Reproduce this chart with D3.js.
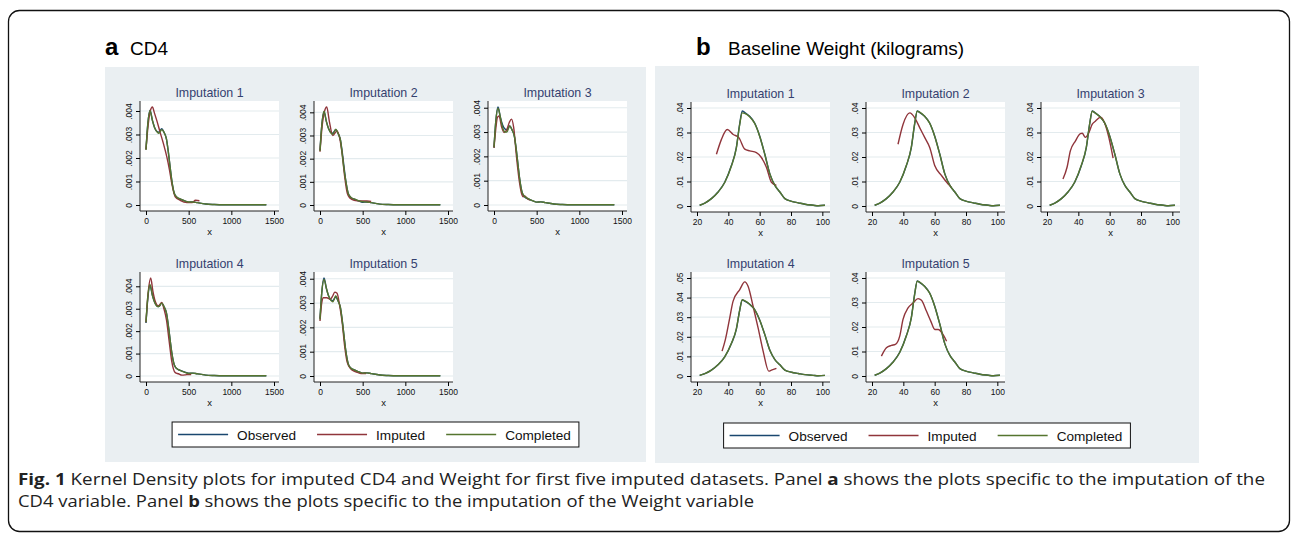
<!DOCTYPE html>
<html>
<head>
<meta charset="utf-8">
<script src="https://cdn.jsdelivr.net/npm/d3@7"></script>
<style>
    body {
        margin: 0;
        background: #fff;
    }

    svg text {
        font-family: "Liberation Sans", Arial, sans-serif;
    }

    .caption {
        font-family: "Open Sans", sans-serif !important;
    }
</style>
</head>
<body>
<svg id="fig" width="1293" height="537"></svg>

<script>
    // ---- data ----
    const legendLabels = ["Observed", "Imputed", "Completed"];
    const seriesColors = ["#1a476f", "#90353b", "#55752f"];
    const impTitles = ["Imputation 1", "Imputation 2", "Imputation 3", "Imputation 4", "Imputation 5"];

    const cd4XTicks = [0, 500, 1000, 1500];
    const wtXTicks = [20, 40, 60, 80, 100];

    // CD4: observed density (same in every imputation)
    const cd4Grid = [0, 20, 47, 75, 100, 130, 150, 185, 210, 240, 260, 283, 300, 331, 360, 400, 450, 500, 550, 600, 650, 700, 800, 900, 1000, 1100, 1200, 1300, 1410];
    const cd4Observed = [.00236, .0034, .00403, .0036, .0033, .00312, .0031, .00325, .0031, .0028, .0023, .0016, .0011, .0005, .00033, .00025, .00018, .00012, .00013, .0001, .00007, .00004, .00002, .00001, .00001, .00001, .00001, .00001, .00001];
    const cd4Completed = [
        [.00235, .0034, .00401, .0036, .0033, .00311, .00305, .0032, .0031, .0028, .0023, .0016, .0011, .0005, .00034, .00026, .00018, .00013, .00013, .0001, .00007, .00004, .00002, .00001, .00001, .00001, .00001, .00001, .00001],
        [.00233, .0034, .00405, .0036, .0033, .0031, .00305, .00327, .0031, .0028, .0022, .0015, .0011, .0005, .00034, .00026, .00019, .00014, .00013, .0001, .00007, .00004, .00002, .00001, .00001, .00001, .00001, .00001, .00001],
        [.00237, .0034, .00398, .0036, .0032, .0030, .0030, .00325, .0031, .0028, .0023, .0016, .0011, .0005, .00035, .00026, .00018, .00012, .00013, .0001, .00007, .00004, .00002, .00001, .00001, .00001, .00001, .00001, .00001],
        [.0024, .0035, .00408, .0036, .0033, .00311, .0031, .00325, .0031, .0028, .0023, .0016, .0011, .0005, .00033, .00025, .00017, .00011, .00013, .0001, .00007, .00004, .00002, .00001, .00001, .00001, .00001, .00001, .00001],
        [.00232, .0034, .00397, .0036, .0033, .0031, .00305, .0033, .0031, .0028, .0023, .0016, .0011, .0005, .00033, .00025, .00018, .00012, .00013, .0001, .00007, .00004, .00002, .00001, .00001, .00001, .00001, .00001, .00001]
    ];
    const cd4ImputedX = [
        [0, 25, 50, 75, 100, 126, 165, 205, 244, 275, 303, 343, 400, 480, 540, 580, 626],
        [0, 25, 50, 79, 110, 150, 200, 230, 260, 290, 320, 350, 400, 450, 500, 550, 600],
        [0, 20, 40, 59, 90, 118, 150, 180, 205, 230, 264, 300, 323, 343, 362, 385, 420],
        [0, 25, 55, 80, 106, 146, 185, 210, 240, 270, 300, 343, 380, 421, 460, 500, 530],
        [0, 20, 40, 80, 120, 150, 172, 200, 230, 260, 290, 320, 360, 400, 440, 480, 540]
    ];
    const cd4ImputedY = [
        [.00236, .0034, .0040, .00417, .0039, .0036, .0031, .0026, .00205, .0015, .0009, .00035, .0002, .0001, .0001, .0002, .00018],
        [.0023, .0034, .004, .00423, .0036, .0030, .0032, .0029, .0022, .0012, .0005, .0003, .0002, .00018, .00017, .00017, .00015],
        [.00235, .0031, .0036, .00366, .0032, .00298, .0031, .0034, .00353, .0032, .00197, .0009, .00047, .00034, .00037, .00028, .0002],
        [.0024, .0037, .00437, .0038, .00336, .00313, .00328, .003, .0025, .0016, .0007, .00015, .0001, .00004, .00005, .00007, .00006],
        [.00226, .0030, .00322, .00322, .00315, .0033, .00345, .0034, .0029, .0022, .0012, .00055, .0003, .0002, .00015, .0001, .0001]
    ];

    // Weight (kg)
    const wtGrid = [21.7, 25, 29.2, 33.4, 37.7, 41.9, 45.1, 47.2, 48.9, 50.4, 53.6, 56.8, 60, 63.3, 66.5, 69.7, 72.9, 76.1, 80.4, 84.6, 88.9, 94.2, 97.4, 101.7];
    const wtObserved = [.0003, .0012, .003, .0057, .0097, .0164, .0238, .0333, .0388, .0382, .0366, .0339, .0286, .0211, .0131, .0084, .0057, .003, .0019, .0013, .0007, .0003, .0001, .0003];
    const wtCompleted = [
        [.0003, .0012, .003, .0056, .0096, .0162, .0236, .033, .038, .0378, .0364, .0337, .0285, .021, .0131, .0084, .0057, .003, .0019, .0013, .0007, .0003, .0001, .0003],
        [.0003, .0012, .003, .0057, .0097, .0165, .024, .0335, .0387, .0383, .0366, .0338, .0285, .021, .013, .0084, .0057, .003, .0019, .0013, .0007, .0003, .0001, .0003],
        [.0003, .0012, .003, .0057, .0098, .0166, .024, .0334, .0387, .0381, .0365, .0339, .0286, .0211, .0131, .0084, .0057, .003, .0019, .0013, .0007, .0003, .0001, .0003],
        [.0003, .0012, .003, .0057, .0098, .0166, .024, .0333, .0389, .0384, .0366, .0339, .0286, .0211, .0131, .0084, .0057, .003, .0019, .0013, .0007, .0003, .0001, .0003],
        [.0003, .0012, .003, .0056, .0096, .0163, .0237, .0332, .0387, .0383, .0365, .0338, .0285, .0211, .0131, .0084, .0057, .003, .0019, .0013, .0007, .0003, .0001, .0003]
    ];
    const wtImputedX = [
        [32.4, 35.6, 39.3, 43.1, 46.7, 50.5, 53.7, 57.9, 61.1, 64.3, 67.5, 70.7],
        [36.6, 39.8, 44.1, 47.3, 50.5, 53.7, 56.9, 60.1, 64.4, 68.6, 70.5],
        [30.2, 32.8, 34.9, 38.1, 41.3, 42.5, 44.5, 46.7, 48.8, 50.9, 54.1, 56.3, 59.5, 62.2],
        [36, 38.1, 40.9, 43, 47.3, 50.5, 52.6, 55.8, 59, 62.2, 65.8, 67.5, 70.7],
        [26, 29.2, 32.4, 34.9, 37.7, 39.8, 43, 46.2, 49.4, 51.6, 54.8, 57.5, 60.1, 62.2, 65.4, 67.6]
    ];
    const wtImputedY = [
        [.0211, .0272, .0312, .0292, .0279, .0232, .0225, .0218, .0198, .0158, .0097, .0084],
        [.0252, .0333, .038, .036, .0319, .0279, .0238, .0164, .0124, .009, .0078],
        [.011, .0158, .0225, .0265, .0295, .0297, .028, .0299, .0333, .0346, .0362, .0346, .0279, .0195],
        [.0127, .0186, .0297, .0381, .0441, .048, .0458, .0356, .0246, .0127, .0025, .003, .0039],
        [.0081, .0115, .0125, .0129, .0163, .0231, .0278, .0298, .0316, .0309, .0264, .0224, .019, .019, .0169, .0142]
    ];

    const svg = d3.select("#fig");
    const PW = 139, PH = 110;

    // outer frame
    svg.append("rect")
            .attr("x", 8.5).attr("y", 10.5).attr("width", 1281).attr("height", 521).attr("rx", 11)
            .attr("fill", "none").attr("stroke", "#111").attr("stroke-width", 1.3);

    const yFmt = v => v === 0 ? "0" : d3.format(".3~f")(v).replace(/^0\./, ".");

    function drawSub(left, top, title, xTicks, yStep, series) {
        const right = left + PW, bottom = top + PH;
        const allX = series.flatMap(s => s.x), allY = series.flatMap(s => s.y);
        const x = d3.scaleLinear()
                .domain([Math.min(xTicks[0], d3.min(allX)), Math.max(xTicks[xTicks.length - 1], d3.max(allX))])
                .range([left + 6, right - 5]);
        const yMax = d3.max(allY);
        const nTop = Math.round(yMax / yStep);
        const yTicks = d3.range(0, nTop + 1).map(i => +(i * yStep).toFixed(4));
        const y = d3.scaleLinear().domain([0, Math.max(yMax, yTicks[yTicks.length - 1])]).range([bottom - 6, top + 6]);

        const g = svg.append("g");
        g.append("rect").attr("x", left).attr("y", top).attr("width", PW).attr("height", PH).attr("fill", "#fff");

        g.selectAll(".grid").data(yTicks).join("line")
                .attr("x1", left).attr("x2", right)
                .attr("y1", d => y(d)).attr("y2", d => y(d))
                .attr("stroke", "#e3ebee").attr("stroke-width", 1.2);

        const line = d3.line().x(d => x(d[0])).y(d => y(d[1])).curve(d3.curveMonotoneX);
        series.forEach(s => {
            g.append("path").attr("d", line(d3.zip(s.x, s.y)))
                    .attr("fill", "none").attr("stroke", s.color).attr("stroke-width", 1.4);
        });

        // axis lines span the plot region
        g.append("line").attr("x1", left).attr("x2", left).attr("y1", top).attr("y2", bottom).attr("stroke", "#222");
        g.append("line").attr("x1", left).attr("x2", right).attr("y1", bottom).attr("y2", bottom).attr("stroke", "#222");

        const xa = g.append("g").attr("transform", `translate(0,${bottom})`)
                .call(d3.axisBottom(x).tickValues(xTicks).tickSize(4).tickSizeOuter(0).tickPadding(3).tickFormat(d3.format("d")));
        xa.select(".domain").remove();
        xa.selectAll("text").attr("font-size", 8.5).attr("fill", "#111");

        const ya = g.append("g").attr("transform", `translate(${left},0)`)
                .call(d3.axisLeft(y).tickValues(yTicks).tickSize(4).tickSizeOuter(0).tickFormat(yFmt));
        ya.select(".domain").remove();
        ya.selectAll("text")
                .attr("x", null).attr("dy", null).attr("y", 0)
                .attr("text-anchor", "middle").attr("transform", "translate(-8,0) rotate(-90)")
                .attr("font-size", 8.5).attr("fill", "#111");

        g.append("text").attr("x", (left + right) / 2).attr("y", top - 4).attr("text-anchor", "middle")
                .attr("font-size", 12.4).attr("fill", "#34416f").text(title);
        g.append("text").attr("x", (left + right) / 2).attr("y", bottom + 24).attr("text-anchor", "middle")
                .attr("font-size", 9.5).attr("fill", "#111").text("x");
    }

    function drawLegend(cx, top) {
        const g = svg.append("g");
        const box = g.append("rect").attr("y", top).attr("height", 25)
                .attr("fill", "#fff").attr("stroke", "#111").attr("stroke-width", 1);
        let cur = 6;
        legendLabels.forEach((lab, i) => {
            g.append("line").attr("x1", cur).attr("x2", cur + 50).attr("y1", top + 12.5).attr("y2", top + 12.5)
                    .attr("stroke", seriesColors[i]).attr("stroke-width", 1.4);
            const t = g.append("text").attr("x", cur + 59).attr("y", top + 17.5)
                    .attr("font-size", 13.6).attr("fill", "#111").text(lab);
            cur += 59 + t.node().getComputedTextLength() + (i < 2 ? 21 : 8);
        });
        box.attr("x", 0).attr("width", cur);
        g.attr("transform", `translate(${cx - cur / 2},0)`);
    }

    function drawPanel(p, letter, name, xTicks, yStep, build) {
        svg.append("rect").attr("x", p.bgX).attr("y", p.bgY).attr("width", p.bgW).attr("height", p.bgH).attr("fill", "#eaeff2");
        svg.append("text").attr("x", p.letterX).attr("y", 55).attr("font-size", 24).attr("font-weight", "bold").attr("fill", "#000").text(letter);
        svg.append("text").attr("x", p.letterX + p.nameGap).attr("y", 55).attr("font-size", 19).attr("fill", "#000").text(name);
        impTitles.forEach((t, k) => {
            const col = k % 3, row = Math.floor(k / 3);
            drawSub(p.cols[col], p.rows[row], t, xTicks, yStep, build(k));
        });
        drawLegend(p.bgX + p.bgW / 2, p.legendY);
    }

    drawPanel({bgX: 105, bgY: 67, bgW: 541, bgH: 395, cols: [140, 314, 488], rows: [101, 272], legendY: 422, letterX: 105, nameGap: 25},
            "a", "CD4", cd4XTicks, .001, k => [
                {x: cd4Grid, y: cd4Observed, color: seriesColors[0]},
                {x: cd4ImputedX[k], y: cd4ImputedY[k], color: seriesColors[1]},
                {x: cd4Grid, y: cd4Completed[k], color: seriesColors[2]}
            ]);

    drawPanel({bgX: 655, bgY: 66, bgW: 544, bgH: 397, cols: [691, 866, 1041], rows: [102, 272], legendY: 423, letterX: 696, nameGap: 32},
            "b", "Baseline Weight (kilograms)", wtXTicks, .01, k => [
                {x: wtGrid, y: wtObserved, color: seriesColors[0]},
                {x: wtImputedX[k], y: wtImputedY[k], color: seriesColors[1]},
                {x: wtGrid, y: wtCompleted[k], color: seriesColors[2]}
            ]);

    // caption
    const cap = svg.append("g").attr("class", "caption");
    const line1 = cap.append("text").attr("class", "caption").attr("x", 18).attr("y", 485).attr("font-size", 15).attr("fill", "#222");
    line1.append("tspan").attr("font-weight", "bold").text("Fig. 1");
    line1.append("tspan").text(" Kernel Density plots for imputed CD4 and Weight for first five imputed datasets. Panel ");
    line1.append("tspan").attr("font-weight", "bold").text("a");
    line1.append("tspan").text(" shows the plots specific to the imputation of the");
    const line2 = cap.append("text").attr("class", "caption").attr("x", 18).attr("y", 507).attr("font-size", 15).attr("fill", "#222");
    line2.append("tspan").text("CD4 variable. Panel ");
    line2.append("tspan").attr("font-weight", "bold").text("b");
    line2.append("tspan").text(" shows the plots specific to the imputation of the Weight variable");
    // fit the caption lines to the widths seen in the figure
    const fs = 15.6;
    line1.attr("font-size", fs).attr("textLength", 1247).attr("lengthAdjust", "spacingAndGlyphs");
    line2.attr("font-size", fs).attr("textLength", 736).attr("lengthAdjust", "spacingAndGlyphs");
</script>
</body>
</html>
